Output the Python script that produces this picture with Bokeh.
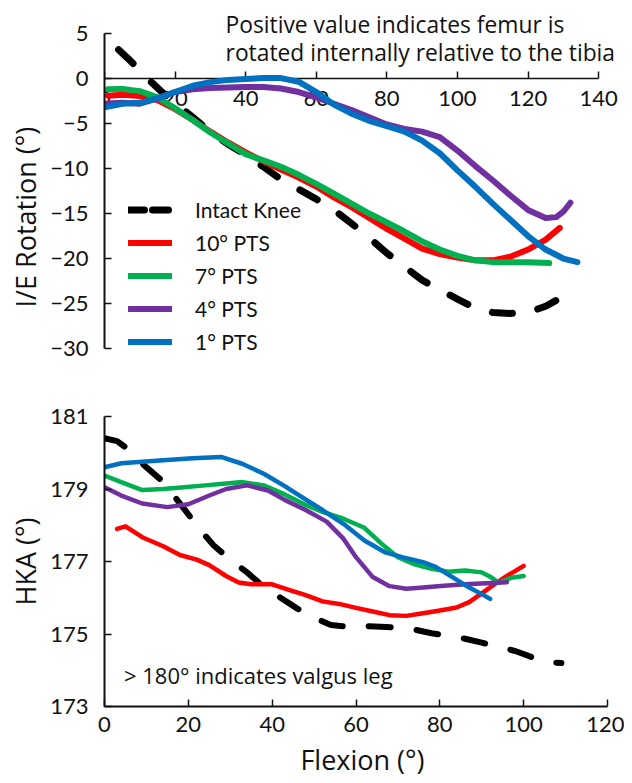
from bokeh.plotting import figure
from bokeh.layouts import column
from bokeh.models import Legend, LegendItem, Label, FixedTicker
from bokeh.embed import file_html
from bokeh.resources import INLINE

FONT = "Lato"
NOTE_FONT = "Open Sans"

# ---------------- I/E rotation (top) ----------------
ie_intact_x = [4, 7, 10, 13, 16, 20, 25, 30, 35, 40, 45, 50, 55, 60, 65, 70, 75, 80, 85, 90, 95, 100, 105, 110, 115, 120, 125, 130]
ie_intact_y = [3.2, 2.1, 0.9, -0.3, -1.4, -2.7, -4.3, -5.9, -7.3, -8.5, -9.8, -11.2, -12.3, -13.4, -14.6, -16.1, -17.7, -19.4, -20.9, -22.4, -23.5, -24.5, -25.5, -26.0, -26.1, -26.0, -25.3, -24.2]

ie_10_x = [1, 5, 10, 15, 20, 25, 30, 35, 40, 45, 50, 55, 60, 65, 70, 75, 80, 85, 90, 95, 100, 105, 110, 115, 120, 125, 129]
ie_10_y = [-1.9, -1.8, -1.95, -2.4, -3.4, -4.6, -5.9, -7.1, -8.2, -9.2, -10.1, -11.0, -12.0, -13.2, -14.3, -15.5, -16.7, -17.8, -18.9, -19.5, -19.9, -20.2, -20.2, -19.8, -19.0, -17.9, -16.6]

ie_7_x = [1, 5, 10, 15, 20, 25, 30, 35, 40, 45, 50, 55, 60, 65, 70, 75, 80, 85, 90, 95, 100, 105, 110, 115, 120, 126]
ie_7_y = [-1.2, -1.15, -1.4, -2.1, -3.3, -4.6, -6.0, -7.2, -8.4, -9.1, -9.8, -10.7, -11.7, -12.8, -13.9, -15.0, -16.0, -17.0, -18.1, -19.0, -19.7, -20.2, -20.4, -20.4, -20.4, -20.5]

ie_4_x = [0, 5, 10, 15, 20, 25, 30, 35, 40, 45, 50, 55, 60, 65, 70, 75, 80, 85, 90, 95, 100, 105, 110, 115, 120, 125, 128, 130, 132]
ie_4_y = [-2.8, -2.7, -2.8, -2.2, -1.5, -1.2, -1.05, -1.0, -0.95, -0.95, -1.1, -1.5, -2.1, -2.8, -3.5, -4.3, -5.1, -5.6, -5.9, -6.5, -8.0, -9.7, -11.3, -13.0, -14.6, -15.5, -15.4, -14.8, -13.8]

ie_1_x = [0, 5, 10, 15, 20, 25, 30, 35, 40, 45, 50, 55, 60, 65, 70, 75, 80, 85, 90, 95, 100, 105, 110, 115, 120, 125, 130, 134]
ie_1_y = [-3.2, -2.8, -2.7, -2.2, -1.5, -0.8, -0.4, -0.15, -0.05, 0.05, 0.05, -0.35, -1.5, -2.9, -3.9, -4.7, -5.3, -5.9, -6.9, -8.3, -10.2, -12.0, -13.9, -15.7, -17.5, -19.0, -20.0, -20.4]

ie_xticks = [0, 20, 40, 60, 80, 100, 120, 140]
ie_yticks = [-30, -25, -20, -15, -10, -5, 0, 5]

# ---------------- HKA (bottom) ----------------
hka_intact_x = [0, 3, 5, 8, 11, 14, 17, 20, 23, 26, 30, 34, 38, 42, 46, 50, 54, 58, 62, 66, 70, 74, 78, 82, 86, 90, 94, 98, 102, 106, 109]
hka_intact_y = [180.4, 180.32, 180.15, 179.8, 179.5, 179.2, 178.75, 178.3, 177.85, 177.45, 177.05, 176.7, 176.3, 176.0, 175.7, 175.45, 175.25, 175.2, 175.22, 175.2, 175.17, 175.12, 175.02, 174.95, 174.87, 174.76, 174.65, 174.53, 174.36, 174.22, 174.2]

hka_10_x = [3, 5, 9, 14, 18, 22, 25, 29, 32, 35, 40, 44, 48, 52, 56, 60, 64, 68, 72, 76, 80, 84, 87, 90, 93, 96, 100]
hka_10_y = [177.9, 177.97, 177.67, 177.42, 177.18, 177.05, 176.9, 176.6, 176.42, 176.37, 176.37, 176.22, 176.07, 175.9, 175.83, 175.72, 175.62, 175.52, 175.5, 175.57, 175.65, 175.73, 175.88, 176.12, 176.37, 176.6, 176.88]

hka_7_x = [0, 4, 9, 14, 19, 24, 29, 33, 38, 43, 48, 52, 57, 62, 66, 70, 74, 78, 82, 86, 90, 92, 94, 97, 100]
hka_7_y = [179.37, 179.19, 178.97, 179.0, 179.05, 179.1, 179.15, 179.19, 179.1, 178.85, 178.56, 178.37, 178.18, 177.93, 177.5, 177.12, 176.92, 176.8, 176.72, 176.75, 176.7, 176.58, 176.42, 176.55, 176.6]

hka_4_x = [0, 4, 9, 15, 20, 25, 29, 34, 39, 43, 48, 53, 57, 60, 64, 68, 72, 76, 81, 86, 91, 96]
hka_4_y = [179.05, 178.82, 178.6, 178.5, 178.58, 178.82, 179.0, 179.1, 178.96, 178.7, 178.42, 178.1, 177.63, 177.12, 176.57, 176.32, 176.25, 176.28, 176.33, 176.37, 176.4, 176.43]

hka_1_x = [0, 4, 9, 14, 21, 28, 33, 38, 43, 47, 52, 57, 62, 67, 71, 76, 79, 83, 87, 90, 92]
hka_1_y = [179.6, 179.71, 179.75, 179.79, 179.85, 179.88, 179.69, 179.42, 179.08, 178.78, 178.42, 178.04, 177.58, 177.25, 177.12, 176.98, 176.85, 176.57, 176.28, 176.1, 175.97]

hka_xticks = [0, 20, 40, 60, 80, 100, 120]
hka_yticks = [173, 175, 177, 179, 181]

series_names = ["Intact Knee", "10\u00b0 PTS", "7\u00b0 PTS", "4\u00b0 PTS", "1\u00b0 PTS"]
series_colors = ["#000000", "#FF0000", "#00B050", "#7030A0", "#0070C0"]

top_note = ["Positive value indicates femur is", "rotated internally relative to the tibia"]
bottom_note = "> 180\u00b0 indicates valgus leg"
# trailing no-break spaces push the rotated label down, as in the reference
ie_ylabel = "I/E Rotation (\u00b0)" + "\u00a0" * 9
hka_ylabel = "HKA (\u00b0)"
x_label = "Flexion (\u00b0)"


def style_axes(p, tick_size, label_size):
    for ax in (p.xaxis[0], p.yaxis[0]):
        ax.major_tick_in = 7
        ax.major_tick_out = 0
        ax.minor_tick_line_color = None
        ax.axis_line_color = "#111111"
        ax.major_tick_line_color = "#111111"
        ax.axis_line_width = 2
        ax.major_tick_line_width = 1.5
        ax.major_label_text_font = FONT
        ax.major_label_text_font_size = tick_size
        ax.major_label_text_color = "#111111"
        ax.axis_label_text_font = NOTE_FONT
        ax.axis_label_text_font_size = label_size
        ax.axis_label_text_font_style = "normal"
        ax.axis_label_text_color = "#111111"
    p.xgrid.visible = False
    p.ygrid.visible = False
    p.outline_line_color = None


# ---------- top figure ----------
# frame extends a little below -30 so the legend is not clipped; the axis stops at -30
top = figure(width=624, height=360, x_range=(0, 146.2), y_range=(-31.33, 7.56),
             min_border_left=104, min_border_right=4, min_border_top=10, min_border_bottom=0,
             output_backend="svg", toolbar_location=None, title=None)
style_axes(top, "22px", "27px")
top.xaxis.fixed_location = 0
top.xaxis.level = "underlay"
top.xaxis.bounds = (0, 140)
top.yaxis.bounds = (-30, 5)
top.xaxis.ticker = FixedTicker(ticks=ie_xticks)
top.yaxis.ticker = FixedTicker(ticks=ie_yticks)
top.xaxis.axis_line_width = 1.5
top.xaxis.major_label_standoff = 12
top.yaxis.major_label_standoff = 16
top.yaxis.axis_label = ie_ylabel
top.yaxis.axis_label_standoff = 3

ie_data = [(ie_intact_x, ie_intact_y), (ie_10_x, ie_10_y), (ie_7_x, ie_7_y), (ie_4_x, ie_4_y), (ie_1_x, ie_1_y)]
items = []
for i, ((xs, ys), name, col) in enumerate(zip(ie_data, series_names, series_colors)):
    if i == 0:
        top.line(xs, ys, line_color=col, line_width=7, line_dash="20 26", line_cap="round")
        proxy = top.line(x=[0.0], y=[float("nan")], line_color=col, line_width=7,
                         line_dash="16 8", line_cap="round")
        items.append(LegendItem(label=name, renderers=[proxy]))
    else:
        r = top.line(xs, ys, line_color=col, line_width=6, line_cap="round", line_join="round")
        items.append(LegendItem(label=name, renderers=[r]))

legend = Legend(items=items, location=(24, 6), padding=0, margin=0, spacing=8,
                glyph_width=44, glyph_height=25, label_height=25, label_standoff=23,
                label_text_font=FONT, label_text_font_size="21px", label_text_color="#111111",
                border_line_color=None, background_fill_alpha=0)
top.add_layout(legend, "center")

for txt, yy in zip(top_note, [6.0, 2.89]):
    top.add_layout(Label(x=34.3, y=yy, text=txt, text_font=NOTE_FONT, text_font_size="22.8px",
                         text_baseline="middle", text_align="left", text_color="#111111"))

# ---------- bottom figure ----------
bot = figure(width=624, height=423, x_range=(0, 123.1), y_range=(173, 181),
             min_border_left=104, min_border_right=4, min_border_top=56, min_border_bottom=77,
             output_backend="svg", toolbar_location=None, title=None)
style_axes(bot, "22px", "27px")
bot.xaxis.bounds = (0, 120)
bot.yaxis.bounds = (173, 181)
bot.xaxis.ticker = FixedTicker(ticks=hka_xticks)
bot.yaxis.ticker = FixedTicker(ticks=hka_yticks)
bot.xaxis.major_label_standoff = 10
bot.yaxis.major_label_standoff = 16
bot.xaxis.axis_label = x_label
bot.xaxis.axis_label_standoff = 6
bot.yaxis.axis_label = hka_ylabel
bot.yaxis.axis_label_standoff = 3

hka_data = [(hka_intact_x, hka_intact_y), (hka_10_x, hka_10_y), (hka_7_x, hka_7_y), (hka_4_x, hka_4_y), (hka_1_x, hka_1_y)]
for i, ((xs, ys), col) in enumerate(zip(hka_data, series_colors)):
    if i == 0:
        bot.line(xs, ys, line_color=col, line_width=6, line_dash="22 26", line_cap="round")
    else:
        bot.line(xs, ys, line_color=col, line_width=4.5, line_cap="round", line_join="round")

bot.add_layout(Label(x=4.65, y=173.87, text=bottom_note, text_font=NOTE_FONT, text_font_size="22px",
                     text_baseline="middle", text_align="left", text_color="#111111"))

layout = column(top, bot, spacing=0)
open("out.html", "w").write(file_html(layout, INLINE))
